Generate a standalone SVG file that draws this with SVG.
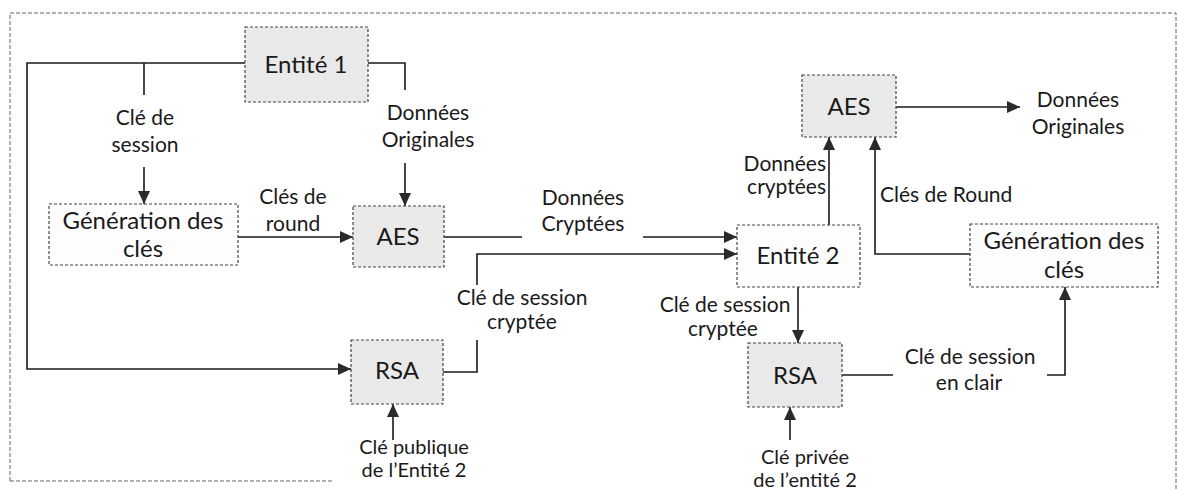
<svg xmlns="http://www.w3.org/2000/svg" width="1178" height="491" viewBox="0 0 1178 491">
  <style>
    .frame { fill: none; stroke: #666; stroke-width: 1; stroke-dasharray: 4 2; }
    .box { stroke: #444; stroke-width: 1.2; stroke-dasharray: 3 2; }
    .shade { fill: #e9e9e9; }
    .plain { fill: #fdfdfd; }
    .btxt { font-family: Lato, "Liberation Sans", sans-serif; font-size: 24px; fill: #1a1a1a; text-anchor: middle; }
    .lbl { font-family: Lato, "Liberation Sans", sans-serif; font-size: 21px; fill: #1a1a1a; text-anchor: middle; }
    .small { font-size: 20px; }
    .wire { fill: none; stroke: #1a1a1a; stroke-width: 1.6; }
  </style>
  <defs>
    <marker id="arrow" markerUnits="userSpaceOnUse" markerWidth="14" markerHeight="12" refX="13" refY="6" orient="auto">
      <path d="M0,0 L13,6 L0,12 Z" fill="#2a2a2a"/>
    </marker>
  </defs>

  <rect width="1178" height="491" fill="#ffffff"/>
  <!-- page frame: top, sides and the visible stub of the bottom edge -->
  <path class="frame" d="M10,481 V13 H1176 V491"/>
  <path class="frame" d="M10,481 H333"/>

  <!-- connectors -->
  <g id="connectors">
    <path class="wire" d="M245,63 H27 V369 H351" marker-end="url(#arrow)"/>
    <path class="wire" d="M144,63 V95"/>
    <path class="wire" d="M144,167 V204" marker-end="url(#arrow)"/>
    <path class="wire" d="M368,63 H405 V90"/>
    <path class="wire" d="M405,163 V206" marker-end="url(#arrow)"/>
    <path class="wire" d="M238,237 H353" marker-end="url(#arrow)"/>
    <path class="wire" d="M444,237 H522"/>
    <path class="wire" d="M643,237 H737" marker-end="url(#arrow)"/>
    <path class="wire" d="M443,372 H477 V340"/>
    <path class="wire" d="M477,285 V254 H737" marker-end="url(#arrow)"/>
    <path class="wire" d="M393,440 V404" marker-end="url(#arrow)"/>
    <path class="wire" d="M829,225 V137" marker-end="url(#arrow)"/>
    <path class="wire" d="M896,107 H1020" marker-end="url(#arrow)"/>
    <path class="wire" d="M970,254 H875 V137" marker-end="url(#arrow)"/>
    <path class="wire" d="M798,287 V343" marker-end="url(#arrow)"/>
    <path class="wire" d="M790,440 V407" marker-end="url(#arrow)"/>
    <path class="wire" d="M842,375 H893"/>
    <path class="wire" d="M1047,375 H1065 V287" marker-end="url(#arrow)"/>
  </g>

  <!-- connector labels -->
  <g id="labels">
    <text class="lbl" x="145" y="125">Clé de</text>
    <text class="lbl" x="145" y="152">session</text>
    <text class="lbl" x="428" y="120">Données</text>
    <text class="lbl" x="428" y="147">Originales</text>
    <text class="lbl" x="293" y="204">Clés de</text>
    <text class="lbl" x="293" y="231">round</text>
    <text class="lbl" x="583" y="205">Données</text>
    <text class="lbl" x="583" y="231">Cryptées</text>
    <text class="lbl" x="522" y="305">Clé de session</text>
    <text class="lbl" x="522" y="329">cryptée</text>
    <text class="lbl small" x="414" y="454">Clé publique</text>
    <text class="lbl small" x="414" y="477">de l’Entité 2</text>
    <text class="lbl" x="826" y="171" style="text-anchor:end">Données</text>
    <text class="lbl" x="826" y="194" style="text-anchor:end">cryptées</text>
    <text class="lbl" x="1078" y="107">Données</text>
    <text class="lbl" x="1078" y="134">Originales</text>
    <text class="lbl" x="880" y="202" style="text-anchor:start">Clés de Round</text>
    <text class="lbl" x="725" y="312">Clé de session</text>
    <text class="lbl" x="723" y="336">cryptée</text>
    <text class="lbl small" x="805" y="464">Clé privée</text>
    <text class="lbl small" x="805" y="487">de l’entité 2</text>
    <text class="lbl" x="970" y="364">Clé de session</text>
    <text class="lbl" x="969" y="390">en clair</text>
  </g>

  <!-- nodes -->
  <g id="entite1">
    <rect class="box shade" x="245" y="27" width="123" height="75"/>
    <text class="btxt" x="306" y="73">Entité 1</text>
  </g>
  <g id="generation1">
    <rect class="box plain" x="49" y="204" width="189" height="61"/>
    <text class="btxt" x="143" y="229">Génération des</text>
    <text class="btxt" x="143" y="257">clés</text>
  </g>
  <g id="aes1">
    <rect class="box shade" x="353" y="206" width="91" height="61"/>
    <text class="btxt" x="398" y="245">AES</text>
  </g>
  <g id="rsa1">
    <rect class="box shade" x="351" y="340" width="92" height="64"/>
    <text class="btxt" x="397" y="379">RSA</text>
  </g>
  <g id="entite2">
    <rect class="box plain" x="737" y="225" width="123" height="62"/>
    <text class="btxt" x="798" y="264">Entité 2</text>
  </g>
  <g id="aes2">
    <rect class="box shade" x="802" y="75" width="94" height="62"/>
    <text class="btxt" x="849" y="115">AES</text>
  </g>
  <g id="generation2">
    <rect class="box plain" x="970" y="224" width="188" height="63"/>
    <text class="btxt" x="1064" y="249">Génération des</text>
    <text class="btxt" x="1064" y="278">clés</text>
  </g>
  <g id="rsa2">
    <rect class="box shade" x="748" y="343" width="94" height="64"/>
    <text class="btxt" x="795" y="384">RSA</text>
  </g>
</svg>
